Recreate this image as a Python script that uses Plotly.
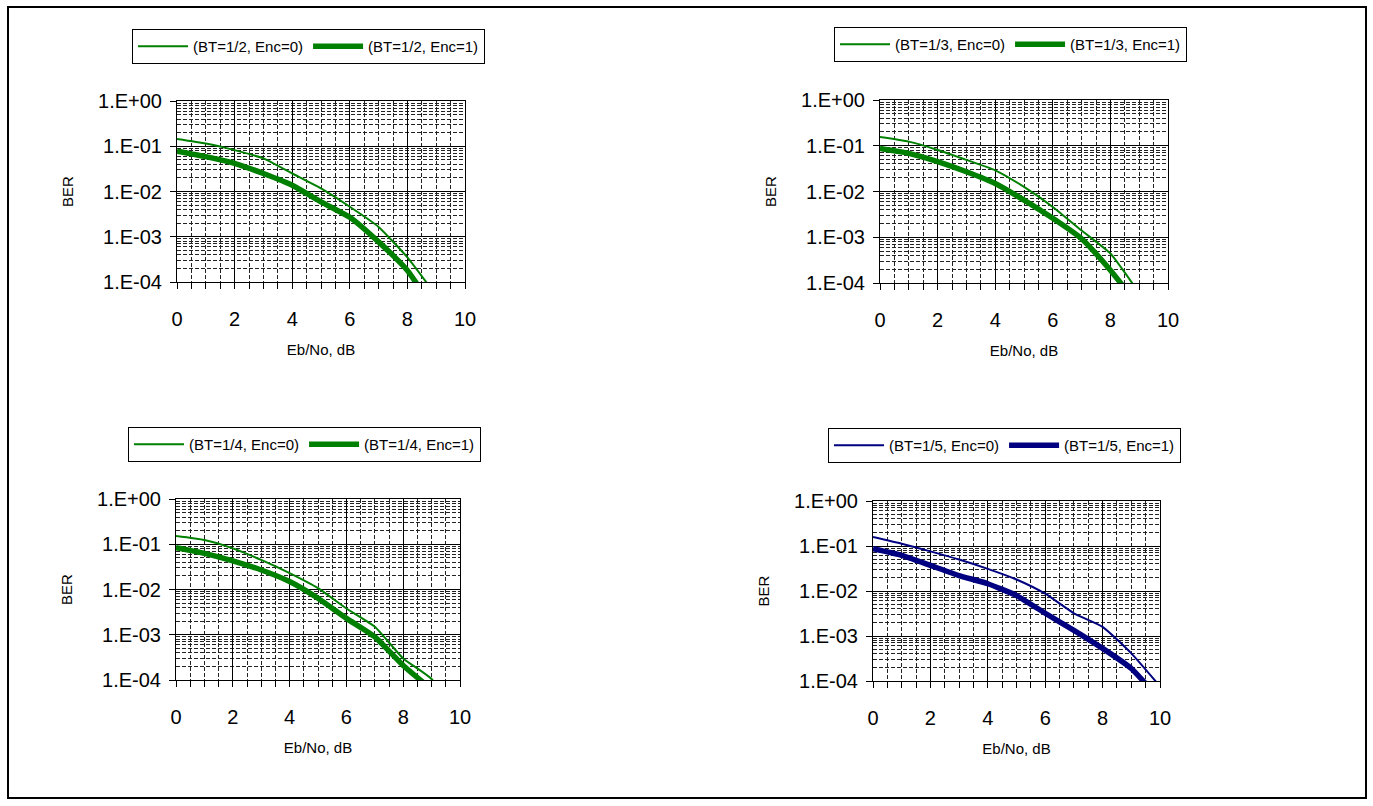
import plotly.graph_objects as go

# ---------------- data ----------------
ebno = [0, 1, 2, 3, 4, 5, 6, 7, 8, 9, 10]

names_tl = ["(BT=1/2, Enc=0)", "(BT=1/2, Enc=1)"]
ber_tl_enc0 = [0.145, 0.115, 0.082, 0.054, 0.025, 0.0117, 0.0046, 0.00165, 0.00035, 0.00005]
ber_tl_enc1 = [0.078, 0.059, 0.042, 0.025, 0.0138, 0.0059, 0.0027, 0.00077, 0.00018, 0.00002]

names_tr = ["(BT=1/3, Enc=0)", "(BT=1/3, Enc=1)"]
ber_tr_enc0 = [0.155, 0.123, 0.081, 0.049, 0.029, 0.0126, 0.0046, 0.0014, 0.00044, 0.00006]
ber_tr_enc1 = [0.087, 0.068, 0.045, 0.027, 0.015, 0.0065, 0.0026, 0.00093, 0.00019, 0.00003]

names_bl = ["(BT=1/4, Enc=0)", "(BT=1/4, Enc=1)"]
ber_bl_enc0 = [0.152, 0.124, 0.081, 0.045, 0.023, 0.0107, 0.0038, 0.0015, 0.0003, 0.000105, 0.00001]
ber_bl_enc1 = [0.084, 0.063, 0.043, 0.027, 0.015, 0.0064, 0.0023, 0.0009, 0.00021, 0.000062]

names_br = ["(BT=1/5, Enc=0)", "(BT=1/5, Enc=1)"]
ber_br_enc0 = [0.158, 0.112, 0.076, 0.05, 0.031, 0.018, 0.0087, 0.0032, 0.0016, 0.00041, 0.000076]
ber_br_enc1 = [0.087, 0.062, 0.037, 0.022, 0.0145, 0.0079, 0.0032, 0.00134, 0.00053, 0.00019, 0.000038]

y_tickvals = [1, 0.1, 0.01, 0.001, 0.0001]
y_ticktext = ["1.E+00", "1.E-01", "1.E-02", "1.E-03", "1.E-04"]
x_title = "Eb/No, dB"
y_title = "BER"

GREEN = "#008000"
NAVY = "#000080"
FONT = "Liberation Sans, Arial, sans-serif"

W, H = 1373, 806

# panel pixel boxes (left, right, top, bottom)
panels = [
    dict(box=(177, 465, 101, 282), names=names_tl, ys=(ber_tl_enc0, ber_tl_enc1), color=GREEN,
         legend=(132, 29)),
    dict(box=(880, 1168, 100, 283), names=names_tr, ys=(ber_tr_enc0, ber_tr_enc1), color=GREEN,
         legend=(834, 27)),
    dict(box=(176, 460, 499, 680), names=names_bl, ys=(ber_bl_enc0, ber_bl_enc1), color=GREEN,
         legend=(128, 427)),
    dict(box=(873, 1160, 501, 681), names=names_br, ys=(ber_br_enc0, ber_br_enc1), color=NAVY,
         legend=(828, 428)),
]

minor_y = [k * 10.0 ** e for e in range(-4, 0) for k in range(2, 10)]

fig = go.Figure()
layout = dict(
    width=W, height=H,
    margin=dict(l=0, r=0, t=0, b=0, pad=0, autoexpand=False),
    paper_bgcolor="white", plot_bgcolor="white",
    font=dict(family=FONT, color="black"),
    showlegend=True,
    shapes=[dict(type="rect", xref="paper", yref="paper",
                 x0=8 / W, x1=1366 / W, y0=1 - 798 / H, y1=1 - 7 / H,
                 line=dict(color="black", width=2), fillcolor="rgba(0,0,0,0)", layer="below")],
)

for i, p in enumerate(panels):
    n = "" if i == 0 else str(i + 1)
    l, r, t, b = p["box"]
    lg = "legend" + n
    for j, (nm, yv) in enumerate(zip(p["names"], p["ys"])):
        fig.add_trace(go.Scatter(
            x=ebno[:len(yv)], y=yv, name=nm, mode="lines",
            line=dict(color=p["color"], width=2 if j == 0 else 5.5, shape="spline", smoothing=0.5),
            xaxis="x" + n, yaxis="y" + n, legend=lg, showlegend=True,
        ))
    layout["xaxis" + n] = dict(
        domain=[l / W, r / W], anchor="y" + n, range=[0, 10], dtick=1,
        tickvals=[0, 2, 4, 6, 8, 10], ticktext=["0", "2", "4", "6", "8", "10"],
        showgrid=True, gridcolor="black", gridwidth=1,
        minor=dict(tickvals=[k * 0.5 for k in range(0, 21)], showgrid=True, gridcolor="#222222",
                   griddash="4px,2px", gridwidth=1, ticks="outside", ticklen=6, tickcolor="black"),
        ticks="outside", ticklen=6, tickcolor="black",
        showline=True, linecolor="black", linewidth=1, mirror=True,
        tickfont=dict(size=20, family=FONT), ticklabelstandoff=13,
        title=dict(text=x_title, font=dict(size=15, family=FONT), standoff=15),
        zeroline=False, fixedrange=True, automargin=False,
    )
    layout["yaxis" + n] = dict(
        domain=[1 - b / H, 1 - t / H], anchor="x" + n, type="log", range=[-4, 0],
        tickvals=y_tickvals, ticktext=y_ticktext,
        showgrid=True, gridcolor="black", gridwidth=1,
        minor=dict(tickvals=minor_y, showgrid=True, gridcolor="#222222",
                   griddash="4px,2px", gridwidth=1),
        ticks="outside", ticklen=6, tickcolor="black",
        showline=True, linecolor="black", linewidth=1, mirror=True,
        tickfont=dict(size=20, family=FONT), ticklabelstandoff=4,
        title=dict(text=y_title, font=dict(size=15, family=FONT), standoff=20),
        zeroline=False, fixedrange=True, automargin=False,
    )
    lx, ly = p["legend"]
    layout[lg] = dict(
        x=lx / W, y=1 - ly / H, xanchor="left", yanchor="top", orientation="h",
        bordercolor="black", borderwidth=1, bgcolor="white",
        font=dict(size=15, family=FONT), itemwidth=50,
        tracegroupgap=0, xref="paper", yref="paper",
    )

fig.update_layout(**layout)
fig.write_html("out.html", config={"displayModeBar": False},
               post_script="document.body.style.margin='0px';document.body.style.overflow='hidden';")
